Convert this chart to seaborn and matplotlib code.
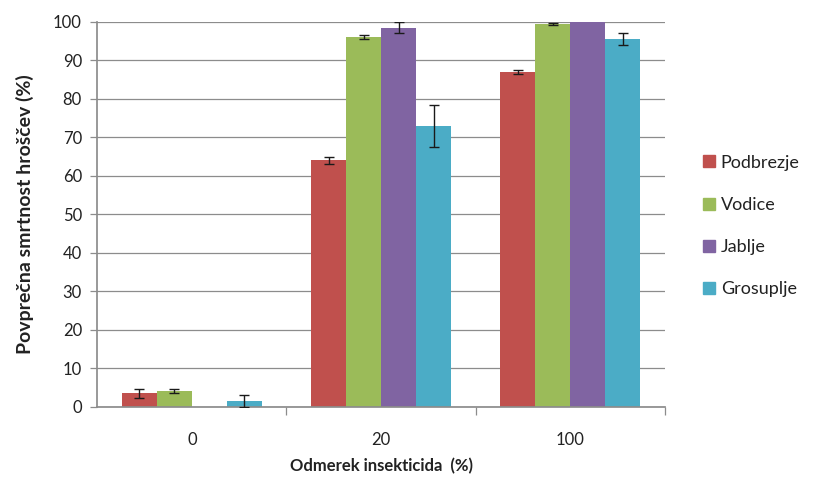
import matplotlib
matplotlib.use("Agg")
import matplotlib.pyplot as plt
from matplotlib.lines import Line2D
import seaborn as sns
import pandas as pd

doses = ["0", "20", "100"]
sites = ["Podbrezje", "Vodice", "Jablje", "Grosuplje"]
colors = ["#C0504D", "#9BBB59", "#8064A2", "#4BACC6"]

podbrezje = [3.5, 64.0, 87.0]
vodice = [4.0, 96.0, 99.5]
jablje = [0.0, 98.5, 100.0]
grosuplje = [1.5, 73.0, 95.5]

podbrezje_err = [1.2, 1.0, 0.5]
vodice_err = [0.5, 0.5, 0.3]
jablje_err = [0.0, 1.5, 0.0]
grosuplje_err = [1.5, 5.5, 1.6]

means = [podbrezje, vodice, jablje, grosuplje]
errs = [podbrezje_err, vodice_err, jablje_err, grosuplje_err]

rows = []
for site, vals, ers in zip(sites, means, errs):
    for d, v, e in zip(doses, vals, ers):
        rows.append({"dose": d, "site": site, "value": v, "err": e})
df = pd.DataFrame(rows)

sns.set_theme(style="white")
plt.rcParams["font.family"] = ["Lato", "DejaVu Sans"]

fig = plt.figure(figsize=(8.17, 4.86), dpi=100)
ax = fig.add_axes([0.119, 0.163, 0.695, 0.792])

sns.barplot(data=df, x="dose", y="value", hue="site", order=doses,
            hue_order=sites, palette=colors, errorbar=None, width=0.74,
            saturation=1, linewidth=0, ax=ax, legend=False)

# error bars at the centre of each drawn bar
for i, site in enumerate(sites):
    container = ax.containers[i]
    for j, bar in enumerate(container):
        e = errs[i][j]
        if e <= 0:
            continue
        xc = bar.get_x() + bar.get_width() / 2
        ax.errorbar(xc, bar.get_height(), yerr=e, fmt="none",
                    ecolor="#1a1a1a", elinewidth=1, capsize=3.5, capthick=1,
                    zorder=5)

ax.set_ylim(0, 100)
ax.set_xlim(-0.5, 2.5)
ax.set_yticks(range(0, 101, 10))
ax.yaxis.grid(True, color="#8c8c8c", linewidth=0.9)
ax.set_axisbelow(True)

for side in ["top", "right"]:
    ax.spines[side].set_visible(False)
ax.spines["left"].set_color("#8c8c8c")
ax.spines["bottom"].set_color("#8c8c8c")

ax.tick_params(axis="y", which="major", left=True, length=5, width=0.9,
               color="#8c8c8c", labelsize=12, pad=6, labelcolor="#222222")
ax.tick_params(axis="x", which="major", bottom=False, labelsize=12, pad=12,
               labelcolor="#222222")
ax.set_xticks([0.5, 1.5, 2.5], minor=True)
ax.tick_params(axis="x", which="minor", bottom=True, length=6, width=0.9,
               color="#8c8c8c")

ax.set_xlabel("Odmerek insekticida  (%)", fontsize=12, fontweight="bold",
              color="#222222", labelpad=7)
ax.set_ylabel("Povprečna smrtnost hroščev (%)", fontsize=14, fontweight="bold",
              color="#222222", labelpad=14)

handles = [Line2D([0], [0], marker="s", linestyle="none", markersize=8,
                  markerfacecolor=c, markeredgecolor=c) for c in colors]
fig.legend(handles, sites, loc="center left", bbox_to_anchor=(0.838, 0.535),
           frameon=False, fontsize=13, handletextpad=0.2, labelspacing=1.45,
           handlelength=0.9, labelcolor="#222222")

fig.savefig("out.png", dpi=100, facecolor="white")
